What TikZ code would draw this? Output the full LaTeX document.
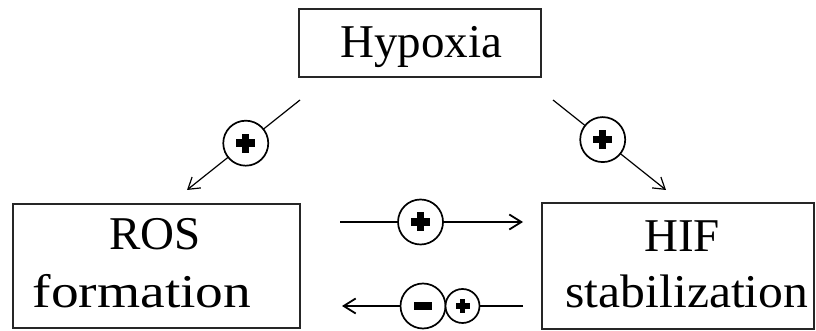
\documentclass[tikz,border=0pt]{standalone}
\usepackage{fontspec}
\setmainfont{Liberation Serif}
\usetikzlibrary{arrows.meta}
\begin{document}
\begin{tikzpicture}[x=1pt,y=1pt,
  box/.style={draw=black!85, line width=1.3pt, inner sep=0pt},
  lbl/.style={anchor=base, inner sep=0pt, font=\fontsize{47pt}{56pt}\selectfont},
  darr/.style={line width=1.2pt, -{Straight Barb[length=11pt,width=14pt,line width=1.2pt]}},
  harr/.style={line width=1.8pt, -{Straight Barb[length=12pt,width=15pt,line width=1.8pt]}},
  pcirc/.style={circle, draw, fill=white, inner sep=0pt, line width=1.7pt, minimum size=#1},
  plusc/.style={pcirc=#1, path picture={
     \fill[black] ([xshift=-9.5pt,yshift=-3.7pt]path picture bounding box.center) rectangle ++(19pt,7.4pt);
     \fill[black] ([xshift=-3.7pt,yshift=-9.5pt]path picture bounding box.center) rectangle ++(7.4pt,19pt);}},
  smallplusc/.style={pcirc=34pt, path picture={
     \fill[black] ([xshift=-7pt,yshift=-2.9pt]path picture bounding box.center) rectangle ++(14pt,5.8pt);
     \fill[black] ([xshift=-2.9pt,yshift=-7pt]path picture bounding box.center) rectangle ++(5.8pt,14pt);}},
  minusc/.style={pcirc=45pt, path picture={
     \fill[black] ([xshift=-9pt,yshift=-4.3pt]path picture bounding box.center) rectangle ++(18pt,8.6pt);}}
]
\useasboundingbox (0,0) rectangle (816,331);
% boxes
\node[box, minimum width=242pt, minimum height=68pt] (hyp) at (420,288) {};
\node[lbl] (hyptxt) at (421,273) {Hypoxia};
\node[box, minimum width=287pt, minimum height=124pt] (ros) at (156.5,65) {};
\node[lbl] (rostxt) at (155,81) {ROS};
\node[lbl] (formtxt) at (142,23) {\scalebox{1.18}[1]{formation}};
\node[box, minimum width=272pt, minimum height=126pt] (hif) at (678,65) {};
\node[lbl] (hiftxt) at (682,79) {HIF};
\node[lbl] (stabtxt) at (687,23) {\scalebox{1.057}[1]{stabilization}};
% arrow ends
\coordinate (a1s) at (300,231);
\coordinate (a1e) at (187,141);
\coordinate (a2s) at (553,231);
\coordinate (a2e) at (666,141);
\coordinate (a3s) at (340,109);
\coordinate (a3e) at (523,109);
\coordinate (a4s) at (523,25);
\coordinate (a4e) at (342,25);
% arrows
\draw[darr] (a1s) -- node[plusc=45pt, pos=0.48] (c1) {} (a1e);
\draw[darr] (a2s) -- node[plusc=45pt, pos=0.44] (c2) {} (a2e);
\draw[harr] (a3s) -- node[plusc=45pt, pos=0.44] (c3) {} (a3e);
\draw[harr] (a4s) -- (a4e);
\node[minusc] (c4) at (423,25) {};
\node[smallplusc] (c5) at (462.5,25) {};
\end{tikzpicture}
\end{document}
